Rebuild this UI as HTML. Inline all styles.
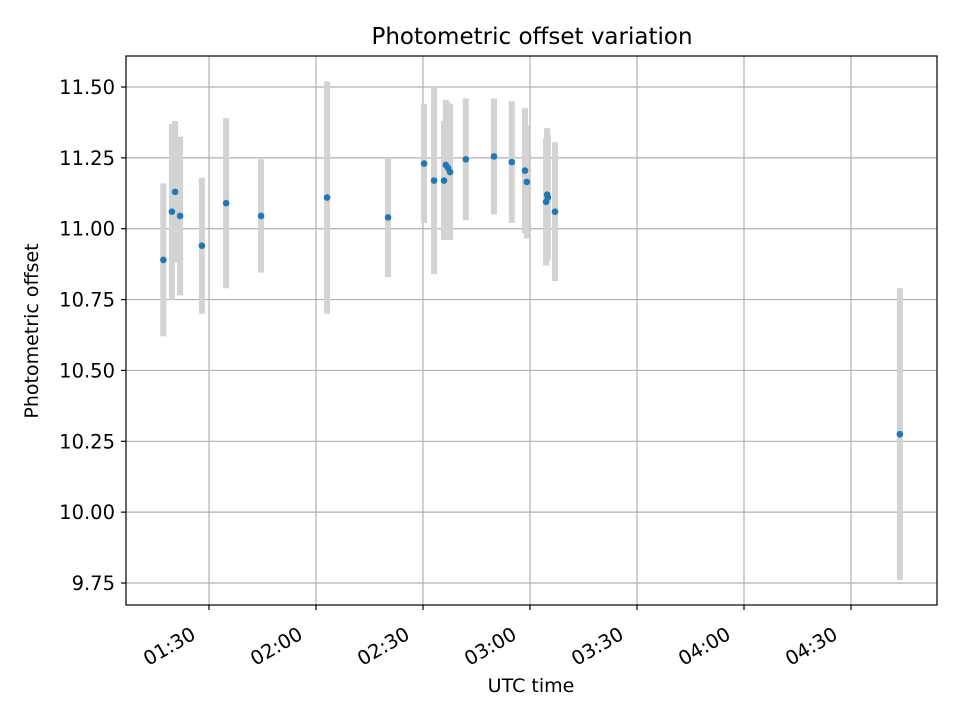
<!DOCTYPE html>
<html><head><meta charset="utf-8"><style>
body{margin:0;background:#fff}
svg text{font-family:"DejaVu Sans","Liberation Sans",sans-serif;fill:#000}
</style></head><body>
<svg id="chart" width="960" height="720" xmlns="http://www.w3.org/2000/svg">
<rect width="960" height="720" fill="#fff"/>
<g id="grid"></g><g id="bars"></g><g id="points"></g><g id="axes"></g>
<text x="532" y="44" font-size="23" text-anchor="middle">Photometric offset variation</text>
<text x="531" y="692" font-size="19" text-anchor="middle">UTC time</text>
<text transform="translate(38,331) rotate(-90)" font-size="19" text-anchor="middle">Photometric offset</text>
</svg>
<script>
// time in minutes since 00:00 UTC
const times=[77.2,79.6,80.5,81.9,88.0,94.8,104.6,123.1,140.2,150.3,153.1,155.9,156.4,157.0,157.6,162.0,169.9,174.9,178.6,179.1,184.5,184.8,185.0,187.0,283.7];
const offsets=[10.89,11.06,11.13,11.045,10.94,11.09,11.045,11.11,11.04,11.23,11.17,11.17,11.225,11.215,11.20,11.245,11.255,11.235,11.205,11.165,11.095,11.12,11.11,11.06,10.275];
const errors=[0.27,0.31,0.25,0.28,0.24,0.30,0.20,0.41,0.21,0.21,0.33,0.21,0.23,0.23,0.24,0.215,0.205,0.215,0.22,0.20,0.225,0.235,0.22,0.245,0.515];
const yTicks=[9.75,10.00,10.25,10.50,10.75,11.00,11.25,11.50];
const xTicks=[90,120,150,180,210,240,270];
const xTickLabels=["01:30","02:00","02:30","03:00","03:30","04:00","04:30"];
const L=126,R=937,T=56,B=605;
const xs=t=>209+(t-90)*(107/30);
const ys=v=>87+(11.5-v)*283.43;
const NS="http://www.w3.org/2000/svg";
function mk(tag,attrs,parent){const e=document.createElementNS(NS,tag);for(const k in attrs)e.setAttribute(k,attrs[k]);parent.appendChild(e);return e;}
const grid=document.getElementById('grid'),bars=document.getElementById('bars'),pts=document.getElementById('points'),axes=document.getElementById('axes');
yTicks.forEach(v=>{const y=ys(v);
 const g=mk('line',{x1:L,x2:R,y1:y,y2:y,stroke:'#b0b0b0','stroke-width':1.2},grid);
 
 
 mk('line',{x1:L-5,x2:L,y1:y,y2:y,stroke:'#000','stroke-width':1.2},axes);
 const t=mk('text',{x:L-11,y:y+7,'font-size':19.5,'text-anchor':'end'},axes);t.textContent=v.toFixed(2);
 
 
});
xTicks.forEach((m,i)=>{const x=xs(m);
 const g=mk('line',{x1:x,x2:x,y1:T,y2:B,stroke:'#b0b0b0','stroke-width':1.2},grid);
 
 
 mk('line',{x1:x,x2:x,y1:B,y2:B+5,stroke:'#000','stroke-width':1.2},axes);
 const t=mk('text',{transform:`translate(${x-12},${B+33}) rotate(-30)`,'font-size':19.5,'text-anchor':'end'},axes);t.textContent=xTickLabels[i];
 
 
});
mk('rect',{x:L,y:T,width:R-L,height:B-T,fill:'none',stroke:'#000','stroke-width':1.2},axes);
times.forEach((t,i)=>{const x=xs(t);
 const b=mk('line',{x1:x,x2:x,y1:ys(offsets[i]+errors[i]),y2:ys(offsets[i]-errors[i]),stroke:'#d3d3d3','stroke-width':6},bars);
 
 
 const c=mk('circle',{cx:x,cy:ys(offsets[i]),r:3.3,fill:'#1f77b4'},pts);
 
 
});
</script>
</body></html>
